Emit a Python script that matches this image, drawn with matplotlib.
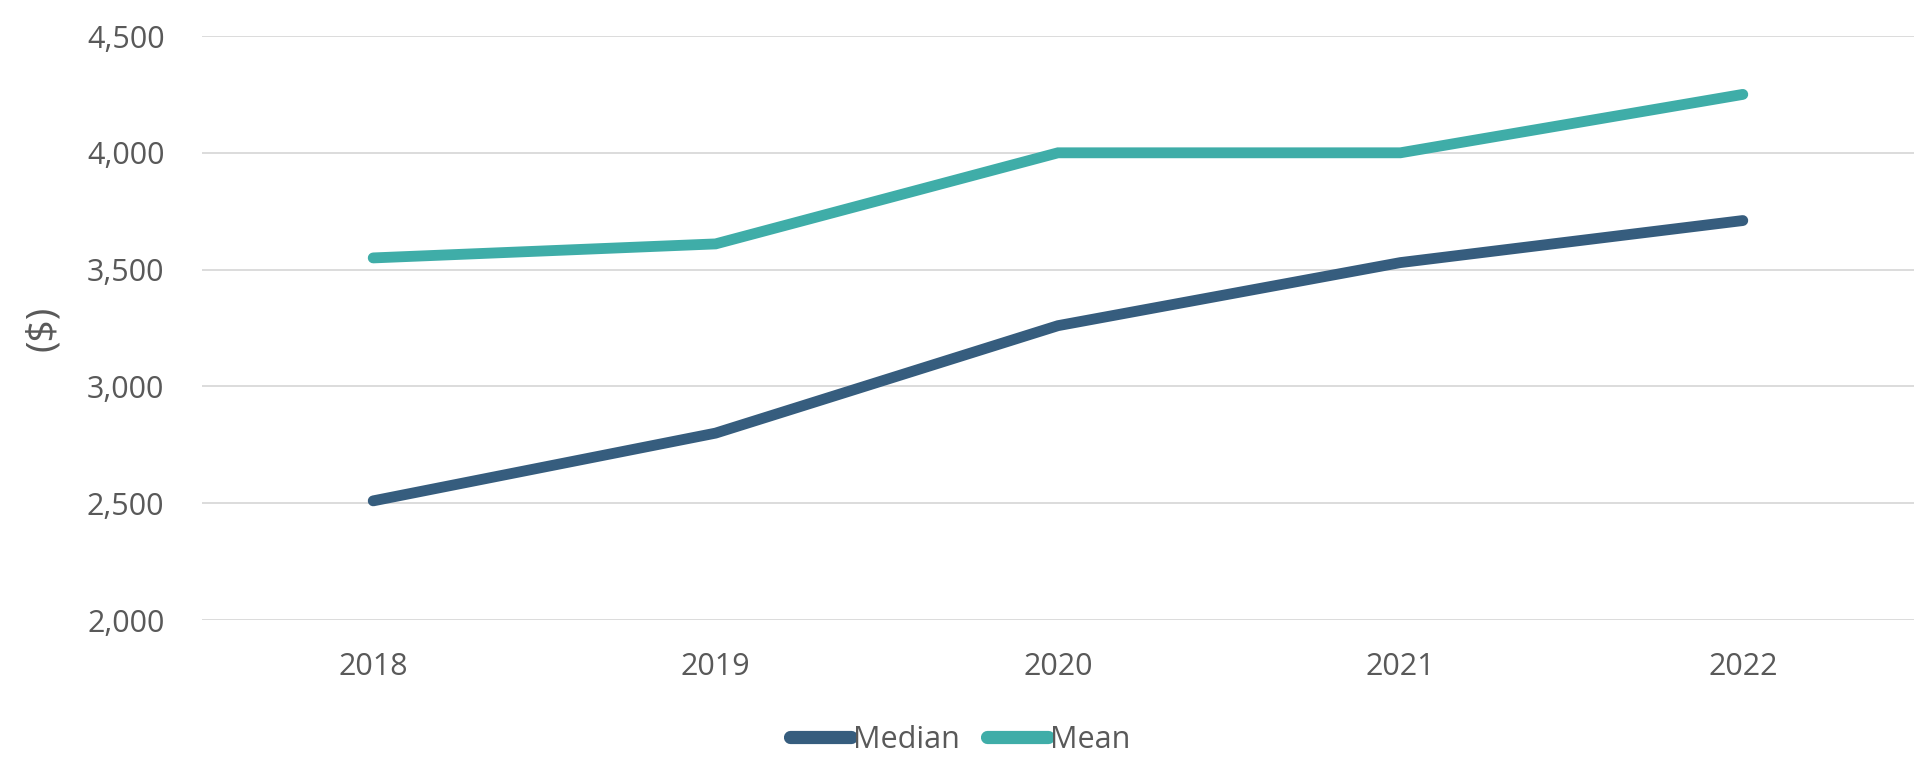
import matplotlib.pyplot as plt
from matplotlib.ticker import FuncFormatter

years = ["2018", "2019", "2020", "2021", "2022"]
median = [2510, 2800, 3260, 3530, 3710]
mean = [3550, 3610, 4000, 4000, 4250]

MEDIAN_C = "#365d7e"
MEAN_C = "#3fada8"
TEXT_C = "#595959"
GRID_C = "#d9d9d9"

plt.rcParams['font.family'] = ['Open Sans', 'DejaVu Sans']

fig = plt.figure(figsize=(19.2, 7.65), dpi=100)
ax = fig.add_axes([202/1920, 1 - 620/765, 1712/1920, 584/765])

x = list(range(len(years)))
ax.plot(x, median, color=MEDIAN_C, lw=7.8, solid_capstyle='round', solid_joinstyle='miter', label="Median", zorder=3)
ax.plot(x, mean, color=MEAN_C, lw=7.8, solid_capstyle='round', solid_joinstyle='miter', label="Mean", zorder=3)

ax.set_xlim(-0.5, len(years) - 0.5)
ax.set_ylim(2000, 4500)
ax.set_yticks([2000, 2500, 3000, 3500, 4000, 4500])
ax.yaxis.set_major_formatter(FuncFormatter(lambda v, p: "{:,.0f}".format(v)))
ax.set_xticks(x)
ax.set_xticklabels(years)

ax.grid(axis='y', color=GRID_C, lw=1.3, zorder=0)
ax.set_axisbelow(True)
for s in ax.spines.values():
    s.set_visible(False)
ax.tick_params(axis='both', length=0, labelsize=22, labelcolor=TEXT_C)
ax.tick_params(axis='y', pad=27)
ax.tick_params(axis='x', pad=23)

fig.text(43/1920, 1 - 328/765, "($)", rotation=90, ha='center', va='center', fontsize=28, color=TEXT_C)

leg = fig.legend(loc='center', bbox_to_anchor=(0.5, 1 - 740/765), ncol=2, frameon=False,
                 fontsize=22, handlelength=2.0, handletextpad=0.05, columnspacing=0.9)
for t in leg.get_texts():
    t.set_color(TEXT_C)
for h in leg.get_lines():
    h.set_linewidth(9.5)
    h.set_solid_capstyle('round')

plt.savefig("out.png", dpi=100)
